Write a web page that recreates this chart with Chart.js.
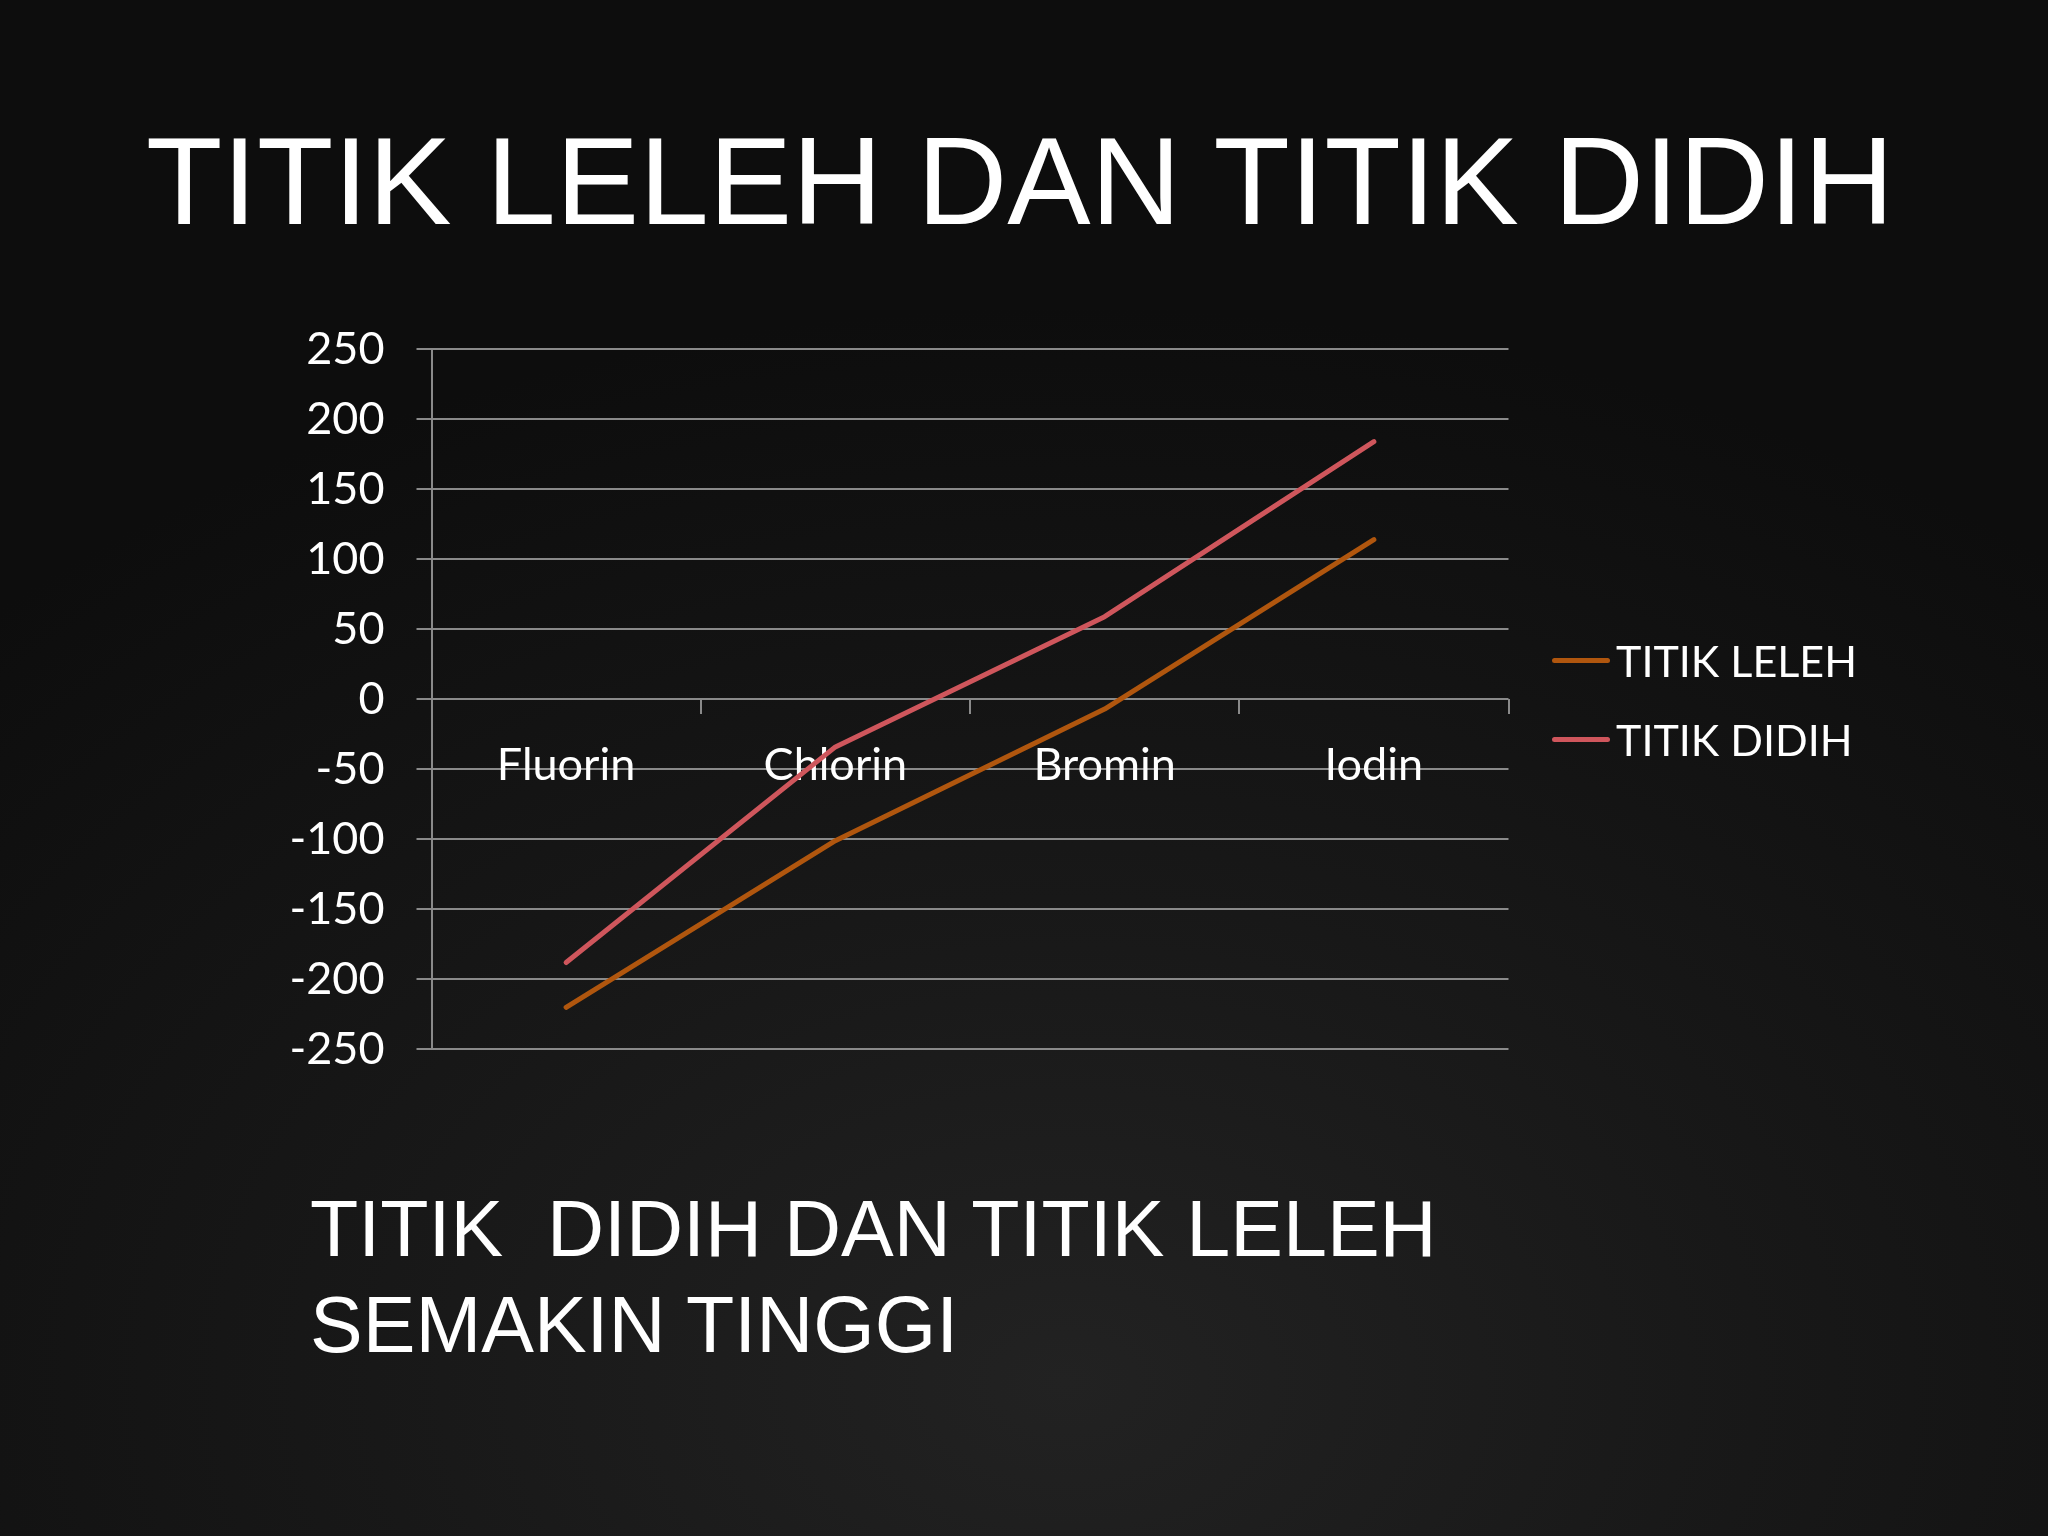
<!DOCTYPE html>
<html>
<head>
<meta charset="utf-8">
<script src="https://cdn.jsdelivr.net/npm/chart.js@4.4.1/dist/chart.umd.min.js"></script>
<style>
  html, body { margin: 0; padding: 0; }
  body {
    width: 2048px; height: 1536px; overflow: hidden; position: relative;
    background: radial-gradient(ellipse 75% 70% at 52% 90%, #222222 0%, #181818 45%, #0d0d0d 100%);
    font-family: "Liberation Sans", Arial, sans-serif; color: #fff;
  }
  #title {
    position: absolute; left: 146px; top: 118px;
    font-size: 125px; line-height: 1; white-space: nowrap;
  }
  #note {
    position: absolute; left: 310px; top: 1181px;
    font-size: 79px; line-height: 96px; white-space: pre;
  }
  #chartBox { position: absolute; left: 0; top: 0; width: 2048px; height: 1536px; }
  #legend { position: absolute; left: 1552px; top: 638px; font-family: Lato, sans-serif; }
  .item { display: flex; align-items: center; height: 44px; margin-bottom: 35px; font-size: 43px; line-height: 1; }
  .swatch { width: 58px; height: 5px; border-radius: 3px; margin-right: 6px; }
</style>
</head>
<body>
<div id="title">TITIK LELEH DAN TITIK DIDIH</div>
<div id="chartBox"><canvas id="myLineChart" width="2048" height="1536"></canvas></div>
<div id="legend"></div>
<div id="note">TITIK  DIDIH DAN TITIK LELEH
SEMAKIN TINGGI</div>
<script>
// Data (degrees Celsius)
var categories = ['Fluorin', 'Chlorin', 'Bromin', 'Iodin'];
var titikLeleh = [-220, -101, -7, 114];
var titikDidih = [-188, -34, 59, 184];
var seriesNames = ['TITIK LELEH', 'TITIK DIDIH'];
var yTicks = [-250, -200, -150, -100, -50, 0, 50, 100, 150, 200, 250];

var gridColor = '#8a8a8a';
var labelFont = { family: 'Lato', size: 45 };

var ctx = document.getElementById('myLineChart').getContext('2d');
var myLineChart = new Chart(ctx, {
    type: 'line',
    data: {
        labels: categories,
        datasets: [{
            label: seriesNames[0],
            data: titikLeleh,
            borderColor: '#b0560e',
            backgroundColor: '#b0560e'
        }, {
            label: seriesNames[1],
            data: titikDidih,
            borderColor: '#cf565c',
            backgroundColor: '#cf565c'
        }]
    },
    options: {
        responsive: false,
        animation: false,
        layout: { padding: { left: 200, right: 539.5, top: 349.3, bottom: 486.7 } },
        elements: {
            line: { borderWidth: 5, tension: 0, borderCapStyle: 'round', borderJoinStyle: 'round' },
            point: { radius: 0, hoverRadius: 0 }
        },
        plugins: {
            legend: { display: false },
            tooltip: { enabled: false }
        },
        scales: {
            x: {
                type: 'category',
                position: { y: 0 },
                offset: true,
                grid: {
                    offset: true,
                    drawOnChartArea: false,
                    drawTicks: true,
                    tickLength: 15,
                    color: gridColor,
                    lineWidth: 2
                },
                border: { display: false },
                ticks: { color: '#ffffff', font: labelFont, padding: 24, maxRotation: 0, autoSkip: false }
            },
            y: {
                min: yTicks[0],
                max: yTicks[yTicks.length - 1],
                afterBuildTicks: function (scale) {
                    scale.ticks = yTicks.map(function (v) { return { value: v }; });
                },
                afterFit: function (scale) { scale.width = 231.5; },
                grid: { color: gridColor, lineWidth: 2, tickLength: 15 },
                border: { display: true, color: gridColor, width: 2 },
                ticks: { color: '#ffffff', font: labelFont, padding: 32 }
            }
        }
    }
});

// Legend on the right, built from the chart's datasets
var legendBox = document.getElementById('legend');
myLineChart.data.datasets.forEach(function (ds) {
    var item = document.createElement('div');
    item.className = 'item';
    var swatch = document.createElement('span');
    swatch.className = 'swatch';
    swatch.style.background = ds.borderColor;
    var text = document.createElement('span');
    text.textContent = ds.label;
    item.appendChild(swatch);
    item.appendChild(text);
    legendBox.appendChild(item);
});
</script>
</body>
</html>
